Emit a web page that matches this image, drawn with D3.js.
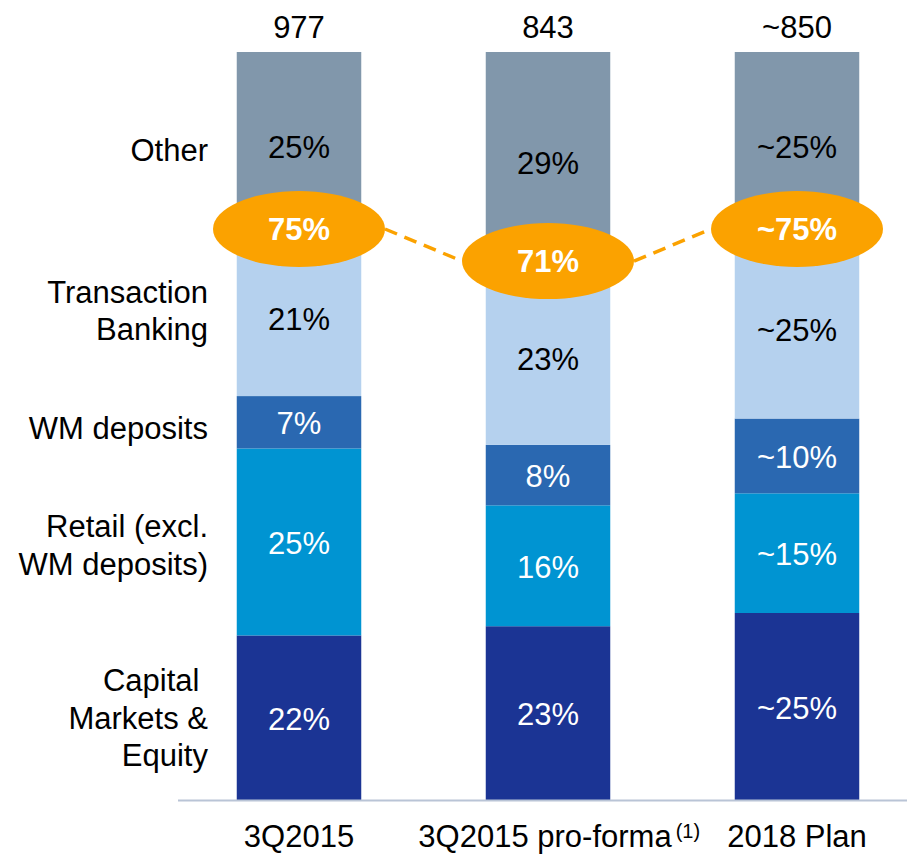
<!DOCTYPE html>
<html>
<head>
<meta charset="utf-8">
<script src="https://cdn.jsdelivr.net/npm/d3@7/dist/d3.min.js"></script>
<style>
  html, body { margin: 0; padding: 0; background: #fff; }
  svg { display: block; font-family: "Liberation Sans", Arial, sans-serif; }
</style>
</head>
<body>
<svg id="chart" width="907" height="854"></svg>
<script>
// ---- data ----
const categories = ["3Q2015", "3Q2015 pro-forma", "2018 Plan"];
const footnotes = ["", "(1)", ""];
const totals = ["977", "843", "~850"];

const seriesKeys = ["capital", "retail", "wm", "tb", "other"];
const seriesLabelLines = [
  ["Capital\u00A0", "Markets &", "Equity"],
  ["Retail (excl.", "WM deposits)"],
  ["WM deposits"],
  ["Transaction", "Banking"],
  ["Other"]
];

const capital = [22, 23, 25];
const retail  = [25, 16, 16];
const wm      = [7, 8, 10];
const tb      = [21, 23, 24];
const other   = [25, 29, 25];

const capitalLabels = ["22%", "23%", "~25%"];
const retailLabels  = ["25%", "16%", "~15%"];
const wmLabels      = ["7%", "8%", "~10%"];
const tbLabels      = ["21%", "23%", "~25%"];
const otherLabels   = ["25%", "29%", "~25%"];

const coreShareLabels = ["75%", "71%", "~75%"];

// ---- styles ----
const colors = {
  capital: "#1b3494",
  retail: "#0094d2",
  wm: "#2a68b1",
  tb: "#b5d1ee",
  other: "#8197ab"
};
const textColors = { capital: "#fff", retail: "#fff", wm: "#fff", tb: "#000", other: "#000" };
const orange = "#fba200";
const fontSize = 31;
const leftLabelNudge = [0, 3, 6, -7, 4]; // small vertical style tweaks per left label

// ---- build table ----
const seriesValues = { capital, retail, wm, tb, other };
const seriesLabels = { capital: capitalLabels, retail: retailLabels, wm: wmLabels, tb: tbLabels, other: otherLabels };
const table = categories.map((c, i) => {
  const row = { cat: c };
  seriesKeys.forEach(k => row[k] = seriesValues[k][i]);
  return row;
});

const stack = d3.stack().keys(seriesKeys).offset(d3.stackOffsetExpand);
const stacked = stack(table);

const svg = d3.select("#chart");

const x = d3.scaleBand()
  .domain(categories)
  .range([174.5, 921.5])
  .paddingInner(0.5)
  .paddingOuter(0.25);

const y = d3.scaleLinear().domain([0, 1]).range([800, 52]);

// bars
const layers = svg.append("g").selectAll("g")
  .data(stacked)
  .join("g")
  .attr("fill", d => colors[d.key]);

layers.selectAll("rect")
  .data(d => d.map(p => ({ p, key: d.key })))
  .join("rect")
  .attr("x", d => x(d.p.data.cat))
  .attr("width", x.bandwidth())
  .attr("y", d => y(d.p[1]))
  .attr("height", d => y(d.p[0]) - y(d.p[1]));

// segment labels
stacked.forEach(layer => {
  svg.append("g").selectAll("text")
    .data(layer)
    .join("text")
    .attr("x", d => x(d.data.cat) + x.bandwidth() / 2)
    .attr("y", d => (y(d[0]) + y(d[1])) / 2 + 12)
    .attr("text-anchor", "middle")
    .attr("font-size", fontSize)
    .attr("fill", textColors[layer.key])
    .text((d, i) => seriesLabels[layer.key][i]);
});

// baseline axis line
svg.append("line")
  .attr("x1", 178).attr("x2", 907)
  .attr("y1", 800.5).attr("y2", 800.5)
  .attr("stroke", "#b9c4d6").attr("stroke-width", 2);

// totals
svg.append("g").selectAll("text")
  .data(categories)
  .join("text")
  .attr("x", d => x(d) + x.bandwidth() / 2)
  .attr("y", 38)
  .attr("text-anchor", "middle")
  .attr("font-size", fontSize)
  .attr("fill", "#000")
  .text((d, i) => totals[i]);

// category labels
const catG = svg.append("g");
categories.forEach((c, i) => {
  const shift = footnotes[i] ? -3 : 0;
  const t = catG.append("text")
    .attr("x", x(c) + x.bandwidth() / 2 + shift)
    .attr("y", 847)
    .attr("text-anchor", "middle")
    .attr("font-size", fontSize)
    .attr("fill", "#000")
    .text(c);
  if (footnotes[i]) {
    const w = t.node().getComputedTextLength();
    catG.append("text")
      .attr("x", x(c) + x.bandwidth() / 2 + shift + w / 2 + 4)
      .attr("y", 838)
      .attr("font-size", 20)
      .attr("fill", "#000")
      .text(footnotes[i]);
  }
});

// left series labels (aligned to first bar's segments)
const lineH = 37.5;
stacked.forEach((layer, li) => {
  const d = layer[0];
  const mid = (y(d[0]) + y(d[1])) / 2 + leftLabelNudge[li];
  const lines = seriesLabelLines[li];
  const t = svg.append("text")
    .attr("text-anchor", "end")
    .attr("font-size", fontSize)
    .attr("fill", "#000");
  lines.forEach((ln, j) => {
    t.append("tspan")
      .attr("x", 208)
      .attr("y", mid + 11 + (j - (lines.length - 1) / 2) * lineH)
      .text(ln);
  });
});

// core share ellipses (at boundary between Transaction Banking and Other)
const tbLayer = stacked[3];
const ell = tbLayer.map((d, i) => ({
  cx: x(d.data.cat) + x.bandwidth() / 2,
  cy: y(d[1]) - 10,
  label: coreShareLabels[i]
}));
const rx = 86, ry = 38;

const dashG = svg.append("g");
for (let i = 0; i < ell.length - 1; i++) {
  dashG.append("line")
    .attr("x1", ell[i].cx + rx).attr("y1", ell[i].cy)
    .attr("x2", ell[i + 1].cx - rx).attr("y2", ell[i + 1].cy)
    .attr("stroke", orange)
    .attr("stroke-width", 3.5)
    .attr("stroke-dasharray", "13,8");
}

const eg = svg.append("g").selectAll("g")
  .data(ell)
  .join("g");
eg.append("ellipse")
  .attr("cx", d => d.cx).attr("cy", d => d.cy)
  .attr("rx", rx).attr("ry", ry)
  .attr("fill", orange);
eg.append("text")
  .attr("x", d => d.cx).attr("y", d => d.cy + 11)
  .attr("text-anchor", "middle")
  .attr("font-size", fontSize)
  .attr("font-weight", "bold")
  .attr("fill", "#fff")
  .text(d => d.label);
</script>
</body>
</html>
